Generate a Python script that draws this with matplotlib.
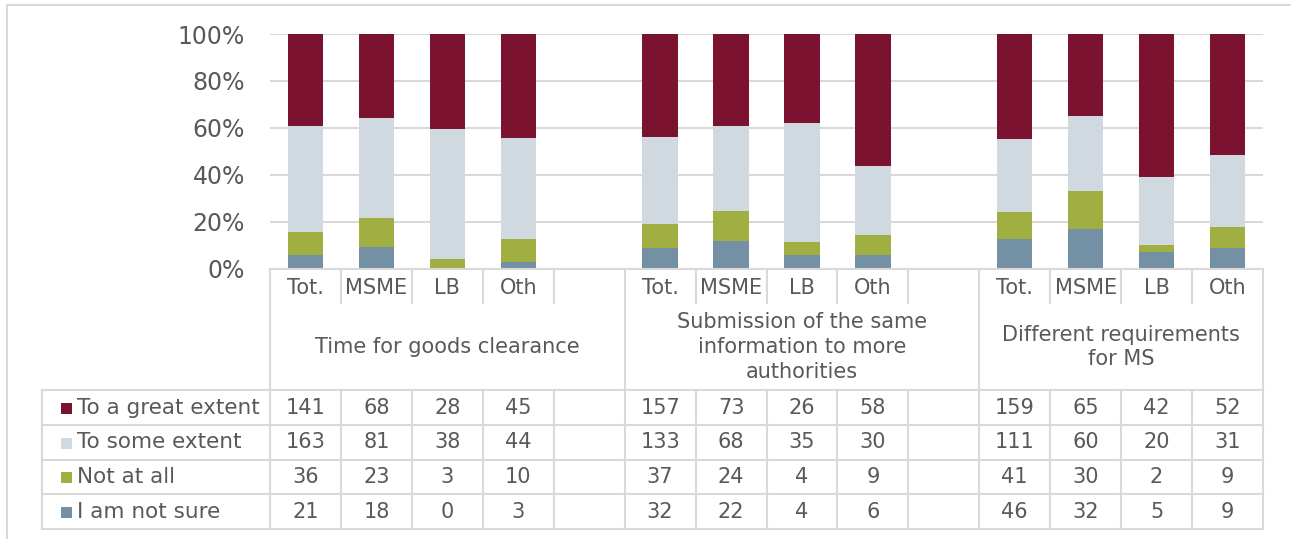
import numpy as np
import matplotlib.pyplot as plt
from matplotlib.lines import Line2D
from matplotlib.patches import Rectangle
from matplotlib import transforms

# data
groups = ['Time for goods clearance',
          'Submission of the same\ninformation to more\nauthorities',
          'Different requirements\nfor MS']
categories = ['Tot.', 'MSME', 'LB', 'Oth']
series = ['To a great extent', 'To some extent', 'Not at all', 'I am not sure']
great = [[141, 68, 28, 45], [157, 73, 26, 58], [159, 65, 42, 52]]
some = [[163, 81, 38, 44], [133, 68, 35, 30], [111, 60, 20, 31]]
not_at_all = [[36, 23, 3, 10], [37, 24, 4, 9], [41, 30, 2, 9]]
not_sure = [[21, 18, 0, 3], [32, 22, 4, 6], [46, 32, 5, 9]]
colors = ['#7B1230', '#D0D9E0', '#A0AE42', '#7390A5']

text_color = '#595959'
line_color = '#D9D9D9'
W, H = 1291, 539

plt.rcParams['font.family'] = ['DejaVu Sans']

fig = plt.figure(figsize=(W / 100, H / 100), dpi=100)
ax = fig.add_axes([270 / W, 1 - 269 / H, (1263 - 270) / W, (269 - 34) / H])

# positions: 5 slots per group, last group without the empty slot
pos = []
for g in range(len(groups)):
    for i in range(len(categories)):
        pos.append(g * 5 + i)
pos = np.array(pos)

counts = np.array([np.ravel(great), np.ravel(some),
                   np.ravel(not_at_all), np.ravel(not_sure)], dtype=float)
shares = counts / counts.sum(axis=0)

# stacked from bottom: not sure, not at all, some, great
bottom = np.zeros(len(pos))
for k in [3, 2, 1, 0]:
    ax.bar(pos, shares[k], 0.5, bottom=bottom, color=colors[k],
           edgecolor='none', zorder=3)
    bottom += shares[k]

ax.set_xlim(-0.5, 13.5)
ax.set_ylim(0, 1)
ax.set_yticks(np.arange(0, 1.01, 0.2))
ax.set_yticklabels(['%d%%' % v for v in range(0, 101, 20)])
ax.tick_params(axis='y', length=0, pad=18, labelsize=17, labelcolor=text_color)
ax.set_xticks([])
for s in ax.spines.values():
    s.set_visible(False)
ax.grid(axis='y', color=line_color, lw=1.5, zorder=0)
ax.set_axisbelow(True)

# table: x in data coords, y in pixels from the top
trans = transforms.blended_transform_factory(
    ax.transData, transforms.Affine2D().scale(1, -1 / H).translate(0, 1) + fig.transFigure)
ftrans = transforms.Affine2D().scale(1 / W, -1 / H).translate(0, 1) + fig.transFigure


def hline(x0, x1, y):
    fig.add_artist(Line2D([x0, x1], [y, y], transform=trans, color=line_color,
                          lw=1.5, clip_on=False))


def vline(x, y0, y1):
    fig.add_artist(Line2D([x, x], [y0, y1], transform=trans, color=line_color,
                          lw=1.5, clip_on=False))


rows_y = [390, 425, 460, 494, 529]
x_left_px = 42
x_left = ax.transData.inverted().transform(
    fig.transFigure.transform((x_left_px / W, 0)))[0]

hline(-0.5, 13.5, 269)
for y in rows_y:
    hline(x_left, 13.5, y)
vline(x_left, 390, 529)

# group separators
for edge in [-0.5, 4.5, 9.5, 13.5]:
    vline(edge, 269, 529)
# inner column separators
for k in range(1, 14):
    e = k - 0.5
    if e in (4.5, 9.5):
        continue
    vline(e, 269, 303)
    vline(e, 390, 529)

fs = 15

# category labels
for p, c in zip(pos, categories * len(groups)):
    fig.text(p, 288, c, transform=trans, ha='center', va='center',
             fontsize=fs, color=text_color)

# group labels
for g, name in enumerate(groups):
    start = g * 5 - 0.5
    end = min(g * 5 + 4.5, 13.5)
    fig.text((start + end) / 2, 347, name, transform=trans, ha='center',
             va='center', fontsize=fs, color=text_color, linespacing=1.3,
             multialignment='center')

# data rows
for r, name in enumerate(series):
    yc = (rows_y[r] + rows_y[r + 1]) / 2
    fig.add_artist(Rectangle((61, yc - 5), 11, 11, transform=ftrans,
                             color=colors[r], lw=0))
    fig.text(77 / W, 1 - yc / H, name, ha='left', va='center', fontsize=15.5,
             color=text_color)
    for p, v in zip(pos, counts[r]):
        fig.text(p, yc, '%d' % v, transform=trans, ha='center', va='center',
                 fontsize=fs, color=text_color)

# outer frame (top and left edges)
fig.add_artist(Line2D([7, W], [5, 5], transform=ftrans, color=line_color, lw=1.5))
fig.add_artist(Line2D([7, 7], [5, H], transform=ftrans, color=line_color, lw=1.5))

fig.savefig('out.png', dpi=100)
plt.close(fig)
